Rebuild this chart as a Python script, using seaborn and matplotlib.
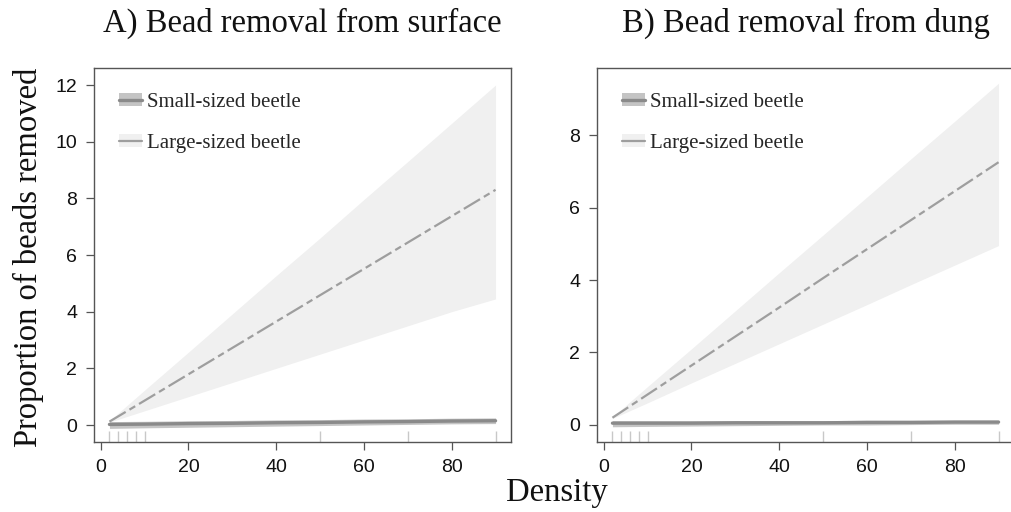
import numpy as np
import pandas as pd
import matplotlib
matplotlib.use("Agg")
import matplotlib.pyplot as plt
import seaborn as sns
from matplotlib.patches import Patch
from matplotlib.lines import Line2D
from matplotlib.legend_handler import HandlerTuple

# ---------------- data ----------------
density_grid = [2, 10, 20, 30, 40, 50, 60, 70, 80, 90]

surface_large_fit = [0.12, 0.86, 1.79, 2.72, 3.65, 4.58, 5.51, 6.44, 7.37, 8.30]
surface_large_lo = [0.10, 0.50, 1.00, 1.50, 2.00, 2.50, 3.00, 3.50, 4.00, 4.45]
surface_large_hi = [0.15, 1.23, 2.57, 3.92, 5.27, 6.60, 7.96, 9.30, 10.65, 12.00]
surface_small_fit = [0.02, 0.03, 0.05, 0.06, 0.08, 0.09, 0.11, 0.12, 0.14, 0.15]
surface_small_lo = [-0.12, -0.10, -0.08, -0.06, -0.04, -0.02, 0.00, 0.02, 0.04, 0.05]
surface_small_hi = [0.12, 0.13, 0.15, 0.16, 0.18, 0.19, 0.21, 0.22, 0.24, 0.25]

dung_large_fit = [0.20, 0.84, 1.64, 2.44, 3.24, 4.05, 4.85, 5.65, 6.45, 7.25]
dung_large_lo = [0.18, 0.61, 1.16, 1.70, 2.24, 2.78, 3.32, 3.87, 4.41, 4.95]
dung_large_hi = [0.22, 1.06, 2.10, 3.15, 4.20, 5.24, 6.29, 7.34, 8.38, 9.43]
dung_small_fit = [0.05, 0.05, 0.05, 0.06, 0.06, 0.06, 0.07, 0.07, 0.08, 0.08]
dung_small_lo = [-0.05, -0.04, -0.03, -0.02, -0.01, 0.00, 0.00, 0.01, 0.02, 0.02]
dung_small_hi = [0.12, 0.12, 0.12, 0.12, 0.12, 0.12, 0.13, 0.13, 0.13, 0.13]

rug_density = [2, 4, 6, 8, 10, 50, 70, 90]

titles = ["A) Bead removal from surface", "B) Bead removal from dung"]
legend_labels = ["Small-sized beetle", "Large-sized beetle"]
x_ticks = [0, 20, 40, 60, 80]
y_ticks_surface = [0, 2, 4, 6, 8, 10, 12]
y_ticks_dung = [0, 2, 4, 6, 8]

# ---------------- style ----------------
sns.set_theme(style="white")
plt.rcParams["font.family"] = ["Liberation Sans", "DejaVu Sans"]
SERIF = ["Liberation Serif", "DejaVu Serif"]

SMALL_LINE = "#8a8a8a"
SMALL_BAND = "#c4c4c4"
LARGE_LINE = "#9e9e9e"
LARGE_BAND = "#f0f0f0"
SPINE = "#555555"

fig = plt.figure(figsize=(10.11, 5.12), dpi=100)
W, H = 1011, 512
ax_boxes = [(94, 68, 511, 442), (597, 68, 1014, 442)]

panels = [
    dict(large=(surface_large_fit, surface_large_lo, surface_large_hi),
         small=(surface_small_fit, surface_small_lo, surface_small_hi),
         ylim=(-0.6, 12.6), yticks=y_ticks_surface),
    dict(large=(dung_large_fit, dung_large_lo, dung_large_hi),
         small=(dung_small_fit, dung_small_lo, dung_small_hi),
         ylim=(-0.47, 9.85), yticks=y_ticks_dung),
]

for i, (box, p) in enumerate(zip(ax_boxes, panels)):
    l, t, r, b = box
    ax = fig.add_axes([l / W, 1 - b / H, (r - l) / W, (b - t) / H])

    lf, llo, lhi = p["large"]
    sf, slo, shi = p["small"]
    ax.fill_between(density_grid, llo, lhi, color=LARGE_BAND, lw=0, zorder=1)
    ax.fill_between(density_grid, slo, shi, color=SMALL_BAND, lw=0, zorder=2)

    df = pd.DataFrame({
        "density": density_grid * 2,
        "fit": list(sf) + list(lf),
        "beetle": ["Small"] * len(density_grid) + ["Large"] * len(density_grid),
    })
    sns.lineplot(data=df, x="density", y="fit", hue="beetle", style="beetle",
                 size="beetle", palette={"Small": SMALL_LINE, "Large": LARGE_LINE},
                 dashes={"Small": "", "Large": (8.5, 2.0, 3.0, 2.0)},
                 sizes={"Small": 2.4, "Large": 1.6},
                 estimator=None, legend=False, ax=ax, zorder=3)

    sns.rugplot(x=rug_density, height=0.03, color="#c8c8c8", lw=1.2, ax=ax,
                expand_margins=False)

    ax.set_xlim(-1.52, 93.52)
    ax.set_ylim(*p["ylim"])
    ax.set_xticks(x_ticks)
    ax.set_yticks(p["yticks"])
    ax.set_xlabel("")
    ax.set_ylabel("")
    for s in ax.spines.values():
        s.set_visible(True)
        s.set_color(SPINE)
        s.set_linewidth(1.0)
    ax.tick_params(axis="both", which="major", direction="out", length=6,
                   width=0.9, color=SPINE, labelsize=14, labelcolor="#111111",
                   pad=6, bottom=True, left=True)
    ax.set_title(titles[i], fontsize=23.5, family=SERIF, pad=26, color="#111111")

    handles = [
        (Patch(facecolor=SMALL_BAND, edgecolor="none"),
         Line2D([], [], color=SMALL_LINE, lw=2.4)),
        (Patch(facecolor=LARGE_BAND, edgecolor="none"),
         Line2D([], [], color=LARGE_LINE, lw=1.6)),
    ]
    ax.legend(handles, legend_labels, loc="upper left", frameon=False,
              handler_map={tuple: HandlerTuple(ndivide=1, pad=0)},
              prop={"family": SERIF, "size": 15}, handlelength=1.1,
              handletextpad=0.25, labelspacing=1.05, handleheight=0.6,
              borderaxespad=0.8, bbox_to_anchor=(0.0, 1.0))

fig.text(28 / W, 1 - 257 / H, "Proportion of beads removed", rotation=90,
         ha="center", va="center", fontsize=23.5, family=SERIF, color="#111111")
fig.text(557 / W, 1 - 493 / H, "Density", ha="center", va="center",
         fontsize=23.5, family=SERIF, color="#111111")

fig.savefig("out.png", dpi=100)
